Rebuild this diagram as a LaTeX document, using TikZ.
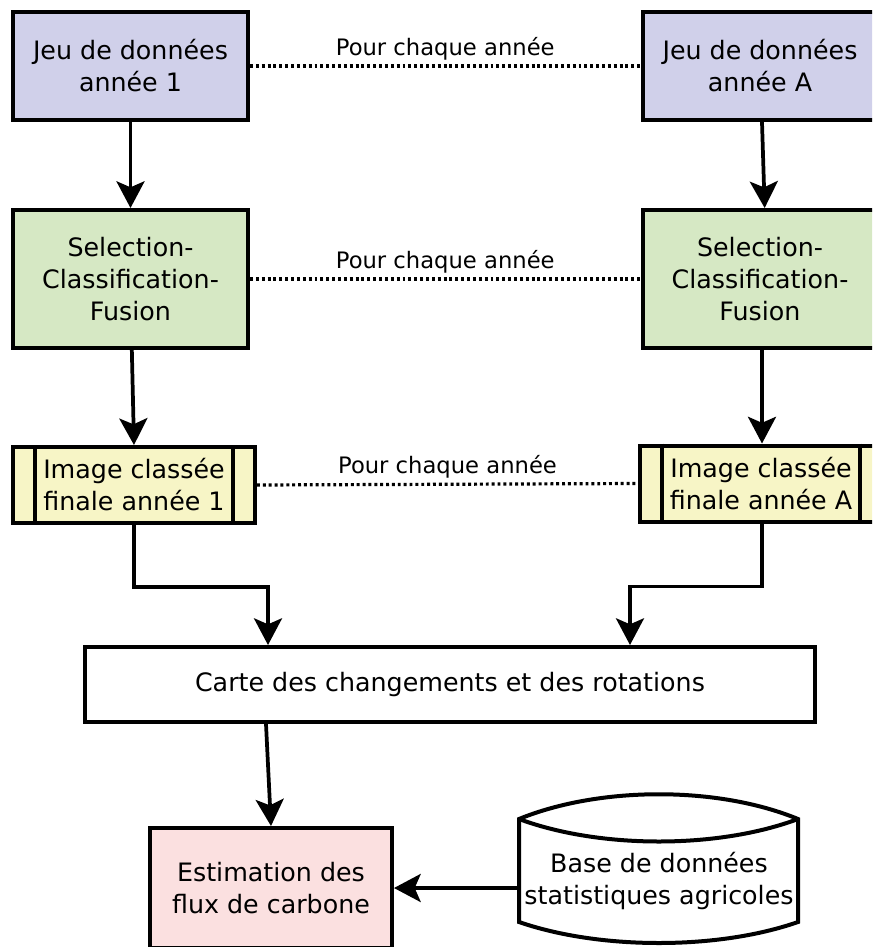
\documentclass[tikz,border=0pt]{standalone}
\usepackage{fontspec}
\setmainfont{DejaVu Sans}
\usetikzlibrary{arrows.meta}
\definecolor{cblue}{RGB}{208,208,234}
\definecolor{cgreen}{RGB}{214,232,196}
\definecolor{cyellow}{RGB}{247,245,198}
\definecolor{cpink}{RGB}{251,224,224}
\begin{document}
\begin{tikzpicture}[x=0.75pt,y=-0.75pt,
 box/.style={draw=black,line width=3pt,align=center,font=\fontsize{19}{24}\selectfont,inner sep=0pt},
 topbox/.style={box,fill=cblue,minimum width=176.25pt,minimum height=81pt},
 greenbox/.style={box,fill=cgreen,minimum width=176.25pt,minimum height=103.5pt},
 yellowbox/.style={box,fill=cyellow,minimum width=181.5pt,minimum height=57pt},
 arr/.style={line width=2.8pt,-{Stealth[length=20pt,width=21pt,inset=4.5pt]}},
 dots/.style={line width=2.4pt,dash pattern=on 2.2pt off 2.2pt},
 lbl/.style={font=\fontsize{17}{20}\selectfont,above,inner sep=3pt}]
\useasboundingbox (0,0) rectangle (872,947);
\clip (0,0) rectangle (872,947);
% top row
\node[topbox] (b1) at (130.5,66) {Jeu de données\\année 1};
\node[topbox] (bA) at (760,66) {Jeu de données\\année A};
% green row
\node[greenbox] (g1) at (130.5,279) {Selection-\\Classification-\\Fusion};
\node[greenbox] (gA) at (760,279) {Selection-\\Classification-\\Fusion};
% yellow row
\node[yellowbox] (y1) at (134,485) {Image classée\\finale année 1};
\node[yellowbox] (yA) at (761,483.5) {Image classée\\finale année A};
\foreach \n in {y1,yA}{
  \draw[line width=3pt] ([xshift=18pt]\n.north west) -- ([xshift=18pt]\n.south west);
  \draw[line width=3pt] ([xshift=-18pt]\n.north east) -- ([xshift=-18pt]\n.south east);
}
% carte
\node[box,fill=white,minimum width=547.5pt,minimum height=56.25pt] (c) at (450,684.5) {Carte des changements et des rotations};
% estimation
\node[box,fill=cpink,minimum width=181.5pt,minimum height=90pt] (est) at (271,888) {Estimation des\\flux de carbone};
% database cylinder
\draw[line width=3pt,fill=white] (519,819) .. controls (600,786) and (718,786) .. (798,819) -- (798,922) .. controls (718,950) and (600,950) .. (519,922) -- cycle;
\draw[line width=3pt] (519,819) .. controls (600,849) and (718,849) .. (798,819);
\node[align=center,font=\fontsize{19}{24}\selectfont,inner sep=0pt] (db) at (659,881) {Base de données\\statistiques agricoles};
\coordinate (dbin) at (519,888);
% dotted links
\draw[dots] (b1.east) -- node[lbl]{Pour chaque année} (bA.west);
\draw[dots] (g1.east) -- node[lbl]{Pour chaque année} (gA.west);
\draw[dots] (y1.east) -- node[lbl]{Pour chaque année} (yA.west);
% arrows
\draw[arr] (b1.south) -- (g1.north);
\draw[arr] ([xshift=1.5pt]bA.south) -- ([xshift=3.5pt]gA.north);
\draw[arr] ([xshift=1pt]g1.south) -- (y1.north);
\draw[arr] ([xshift=1.5pt]gA.south) -- ([xshift=0.75pt]yA.north);
\draw[arr] (y1.south) -- ++(0,62) -| ([xshift=-136.5pt]c.north);
\draw[arr] ([xshift=0.75pt]yA.south) -- ++(0,63) -| ([xshift=135pt]c.north);
\draw[arr] ([xshift=-138pt]c.south) -- (est.north);
\draw[arr] (dbin) -- (est.east);
\end{tikzpicture}
\end{document}
